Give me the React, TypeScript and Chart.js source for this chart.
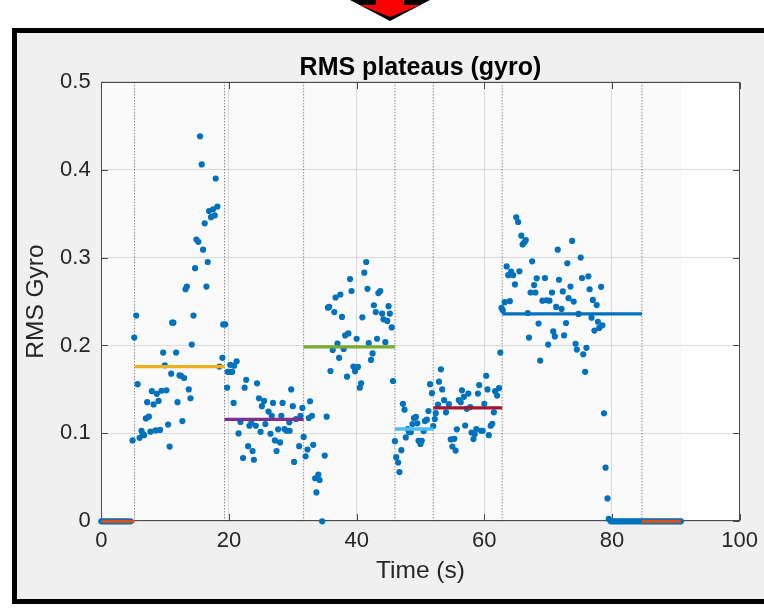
import React, { useEffect, useRef } from 'react';
import { Chart, registerables } from 'chart.js';
Chart.register(...registerables);

// ---- data ----
const timeS = [
  0, 0.3, 0.6, 0.9, 1.2, 1.5, 1.8, 2.1, 2.4, 2.7, 3.0, 3.3, 3.6, 3.9, 4.2, 4.6,
  4.9, 5.16, 5.47, 5.69, 6.0, 6.3, 6.5, 6.7, 6.98, 7.19,
  7.45, 7.7, 7.92, 8.19, 8.5, 8.7, 8.97, 9.2, 9.44, 9.69,
  9.95, 10.2, 10.47, 10.7, 10.95, 11.1, 11.3, 11.72, 11.94, 12.25,
  12.5, 12.7, 12.97, 13.19, 13.4, 13.7, 13.97, 14.17, 14.44, 14.69,
  14.9, 15.2, 15.47, 15.73, 15.94, 16.2, 16.47, 16.67, 16.88, 17.19,
  17.5, 17.77, 17.92, 18.19, 18.5, 18.97, 19.1, 19.4, 19.7, 19.8,
  20.15, 20.2, 20.5, 20.73, 20.8, 21.2, 21.5, 21.8, 22.2, 22.45,
  22.7, 23.0, 23.2, 23.5, 23.7, 23.9, 24.2, 24.4, 24.7, 24.95,
  25.16, 25.5, 25.7, 26.2, 26.5, 26.7, 26.9, 27.2, 27.45, 27.7,
  28.0, 28.2, 28.4, 28.7, 29.0, 29.45, 29.5, 29.75, 30.0, 30.2,
  30.5, 31.0, 31.2, 31.5, 31.7, 32.0, 32.3, 32.5, 32.7, 33.0,
  33.2, 33.5, 33.7, 34.0, 34.2, 34.6, 35.0, 35.3, 35.5, 35.7,
  35.9, 36.25, 36.5, 36.7, 37.0, 37.25, 37.45, 37.7, 37.97, 38.2,
  38.5, 38.7, 38.97, 39.2, 39.5, 39.75, 40.0, 40.2, 40.5, 40.7,
  40.9, 41.2, 41.5, 41.7, 41.9, 42.25, 42.5, 42.7, 43.0, 43.2,
  43.4, 43.7, 44.0, 44.2, 44.5, 44.8, 45.0, 45.2, 45.5, 45.7,
  46.0, 46.2, 46.5, 46.7, 47.0, 47.25, 47.5, 47.7, 48.0, 48.2,
  48.5, 48.75, 48.97, 49.28, 49.5, 49.7, 50.0, 50.2, 50.5, 50.7,
  51.0, 51.25, 51.5, 51.8, 52.0, 52.25, 52.4, 52.75, 52.9, 53.2,
  53.4, 53.7, 54.0, 54.45, 54.75, 55.0, 55.3, 55.5, 55.7, 56.0,
  56.3, 56.5, 56.8, 57.0, 57.25, 57.5, 57.8, 58.0, 58.3, 58.5,
  58.75, 59.0, 59.2, 59.5, 59.75, 60.0, 60.3, 60.5, 60.7, 61.0,
  61.25, 61.5, 61.7, 62.0, 62.3, 62.5, 62.7, 62.9, 63.2, 63.5,
  63.75, 64.0, 64.2, 64.5, 64.8, 65.0, 65.3, 65.5, 65.8, 66.0,
  66.3, 66.5, 66.8, 67.0, 67.25, 67.5, 67.8, 68.0, 68.2, 68.5,
  68.75, 69.1, 69.5, 69.75, 70.0, 70.2, 70.6, 70.8, 71.05, 71.25,
  71.5, 71.7, 72.1, 72.3, 72.5, 72.8, 73.0, 73.2, 73.5, 73.75,
  74.0, 74.3, 74.5, 74.75, 75.1, 75.3, 75.5, 75.8, 76.0, 76.3,
  76.5, 76.8, 77.0, 77.25, 77.6, 77.8, 78.0, 78.3, 78.5, 78.75,
  79.0, 79.3, 79.5,
  79.8, 80.1, 80.4, 80.7, 81.0, 81.3, 81.6, 81.9, 82.2, 82.5, 82.8, 83.1, 83.4,
  83.7, 84.0, 84.3, 84.6, 84.9, 85.2, 85.5, 85.8, 86.1, 86.4, 86.7, 87.0, 87.3,
  87.6, 87.9, 88.2, 88.5, 88.8, 89.1, 89.4, 89.7, 90.0, 90.3, 90.6, 90.8,
];

const rmsGyro = [
  0, 0, 0, 0, 0, 0, 0, 0, 0, 0, 0, 0, 0, 0, 0, 0,
  0.092, 0.209, 0.234, 0.156, 0.095, 0.103, 0.0996, 0.098, 0.117, 0.1355,
  0.119, 0.102, 0.148, 0.133, 0.1034, 0.145, 0.137, 0.104, 0.1485, 0.192,
  0.1775, 0.149, 0.110, 0.085, 0.168, 0.226, 0.226, 0.192, 0.1355, 0.166,
  0.1656, 0.114, 0.163, 0.264, 0.267, 0.150, 0.140, 0.201, 0.234, 0.288,
  0.3206, 0.318, 0.438, 0.406, 0.309, 0.339, 0.267, 0.295, 0.353, 0.346,
  0.355, 0.348, 0.39, 0.358, 0.176, 0.186, 0.224, 0.224, 0.152, 0.170,
  0.170, 0.178, 0.170, 0.1347, 0.177, 0.182, 0.100, 0.113, 0.072, 0.152,
  0.161, 0.0855, 0.1087, 0.112, 0.080, 0.070, 0.1087, 0.157, 0.140, 0.1018,
  0.131, 0.137, 0.1106, 0.1248, 0.0996, 0.120, 0.1347, 0.092, 0.080, 0.1046,
  0.0897, 0.120, 0.1347, 0.105, 0.103, 0.1126, 0.103, 0.150, 0.131, 0.0675,
  0.1164, 0.0855, 0.120, 0.129, 0.096, 0.074, 0.0817, 0.1175, 0.1366, 0.120,
  0.087, 0.049, 0.0328, 0.053, 0.047, 0, 0.0748, 0.119, 0.243, 0.244,
  0.171, 0.195, 0.238, 0.2546, 0.2023, 0.186, 0.258, 0.2325, 0.196, 0.2115,
  0.1645, 0.2137, 0.2756, 0.262, 0.176, 0.1706, 0.2077, 0.1756, 0.152, 0.157,
  0.232, 0.2828, 0.295, 0.2645, 0.2026, 0.1836, 0.191, 0.2458, 0.238, 0.2077,
  0.2596, 0.262, 0.2363, 0.2298, 0.2038, 0.228, 0.2447, 0.2363, 0.2206, 0.1596,
  0.0912, 0.0729, 0.0668, 0.056, 0.0809, 0.1336, 0.127, 0.0954, 0.105, 0.1015,
  0.1015, 0.1107, 0.1175, 0.1187, 0.1115, 0.0915, 0.088, 0.0915, 0.1026, 0.114,
  0.1156, 0.1255, 0.156, 0.1458, 0.1084, 0.1164, 0.123, 0.1328, 0.1588, 0.1729,
  0.150, 0.1378, 0.124, 0.1332, 0.0931, 0.0851, 0.0938, 0.0805, 0.1046, 0.138,
  0.1355, 0.149, 0.1416, 0.109, 0.128, 0.1453, 0.130, 0.101, 0.0935, 0.0992,
  0.105, 0.1453, 0.155, 0.103, 0.103, 0.1336, 0.1656, 0.150, 0.098, 0.1087,
  0.111, 0.124, 0.148, 0.143, 0.1515, 0.192, 0.2427, 0.240, 0.2493, 0.290,
  0.280, 0.2504, 0.284, 0.280, 0.2695, 0.3458, 0.3405, 0.2844, 0.325, 0.315,
  0.3176, 0.32, 0.237, 0.209, 0.2603, 0.2958, 0.2687, 0.2603, 0.2764, 0.225,
  0.1828, 0.251, 0.2768, 0.2515, 0.201, 0.251, 0.2603, 0.216, 0.2103, 0.2439,
  0.309, 0.2748, 0.2416, 0.2615, 0.2115, 0.2256, 0.2936, 0.2538, 0.267, 0.319,
  0.250, 0.202, 0.1954, 0.2359, 0.300, 0.2768, 0.190, 0.170, 0.1973, 0.2787,
  0.264, 0.2317, 0.2519, 0.217, 0.246, 0.227, 0.220, 0.2668, 0.223, 0.1229,
  0.061, 0.026, 0.0027,
  0, 0, 0, 0, 0, 0, 0, 0, 0, 0, 0, 0, 0,
  0, 0, 0, 0, 0, 0, 0, 0, 0, 0, 0, 0, 0,
  0, 0, 0, 0, 0, 0, 0, 0, 0, 0, 0, 0,
];

const plateauStart = [0, 5.2, 19.3, 31.7, 46.0, 52.0, 62.8, 84.7];
const plateauEnd = [5.2, 19.3, 31.7, 46.0, 52.0, 62.8, 84.7, 90.8];
const plateauLevel = [0, 0.176, 0.116, 0.1985, 0.105, 0.129, 0.236, 0];
const segmentBounds = [5.2, 19.3, 31.7, 46.0, 52.0, 62.8, 84.7];
const dataEndTime = 90.8;

const xTicks = [0, 20, 40, 60, 80, 100];
const xTickLabels = ['0', '20', '40', '60', '80', '100'];
const yTicks = [0, 0.1, 0.2, 0.3, 0.4, 0.5];
const yTickLabels = ['0', '0.1', '0.2', '0.3', '0.4', '0.5'];

// ---- styles ----
const plateauColors = ['#D95319', '#EDB120', '#7E2F8E', '#77AC30', '#4DBEEE', '#A2142F', '#0072BD', '#D95319'];
const FONT = "'Liberation Sans', Arial, Helvetica, sans-serif";
const AXIS_COLOR = '#262626';

const framePlugin = {
  id: 'frame',
  beforeDraw(chart: any) {
    const { ctx, chartArea: a, scales } = chart;
    const W = chart.width;
    ctx.save();
    ctx.fillStyle = '#ffffff';
    ctx.fillRect(0, 0, W, chart.height);
    // arrow at top
    ctx.fillStyle = '#000000';
    ctx.beginPath();
    ctx.moveTo(350, 0);
    ctx.lineTo(430, 0);
    ctx.lineTo(390, 21);
    ctx.closePath();
    ctx.fill();
    ctx.fillStyle = '#ff0000';
    ctx.fillRect(376, 0, 28, 5);
    ctx.beginPath();
    ctx.moveTo(360, 5);
    ctx.lineTo(420, 5);
    ctx.lineTo(390, 17);
    ctx.closePath();
    ctx.fill();
    // frame
    ctx.fillStyle = '#000000';
    ctx.fillRect(12, 28, W, 576);
    ctx.fillStyle = '#f0f0f0';
    ctx.fillRect(17, 33, W, 566);
    // plot background
    const xe = scales.x.getPixelForValue(dataEndTime);
    ctx.fillStyle = '#fafafa';
    ctx.fillRect(a.left, a.top, xe - a.left, a.bottom - a.top);
    ctx.fillStyle = '#ffffff';
    ctx.fillRect(xe, a.top, a.right - xe, a.bottom - a.top);
    ctx.restore();
  },
  beforeDatasetsDraw(chart: any) {
    const { ctx, chartArea: a, scales } = chart;
    ctx.save();
    ctx.strokeStyle = '#4a4a4a';
    ctx.lineWidth = 1;
    const L = Math.round(a.left) + 0.5;
    const R = Math.round(a.right) - 0.5;
    const T = Math.round(a.top) + 0.5;
    const B = Math.round(a.bottom) - 0.5;
    ctx.strokeRect(L, T, R - L, B - T);
    const tl = 6.5;
    ctx.beginPath();
    xTicks.forEach((v) => {
      const px = Math.round(scales.x.getPixelForValue(v)) + 0.5;
      ctx.moveTo(px, B); ctx.lineTo(px, B - tl);
      ctx.moveTo(px, T); ctx.lineTo(px, T + tl);
    });
    yTicks.forEach((v) => {
      const py = Math.round(scales.y.getPixelForValue(v)) + 0.5;
      ctx.moveTo(L, py); ctx.lineTo(L + tl, py);
      ctx.moveTo(R, py); ctx.lineTo(R - tl, py);
    });
    ctx.stroke();
    ctx.restore();
  },
};

export default function App() {
  const ref = useRef<HTMLCanvasElement>(null);
  useEffect(() => {
    const scatterPts = timeS.map((t, i) => ({ x: t, y: rmsGyro[i] }));
    const plateauSets = plateauStart.map((s, i) => ({
      type: 'scatter' as const,
      data: [{ x: s, y: plateauLevel[i] }, { x: plateauEnd[i], y: plateauLevel[i] }],
      showLine: true,
      borderColor: plateauColors[i],
      backgroundColor: plateauColors[i],
      borderWidth: 3.3,
      borderCapStyle: 'butt' as const,
      pointRadius: 0,
      clip: false as any,
      order: 0,
    }));
    const boundSets = segmentBounds.map((b) => ({
      type: 'scatter' as const,
      data: [{ x: b, y: 0 }, { x: b, y: 0.5 }],
      showLine: true,
      borderColor: 'rgba(60,60,60,0.85)',
      borderWidth: 1,
      borderDash: [1, 2],
      pointRadius: 0,
      order: 2,
    }));
    const chart = new Chart(ref.current as HTMLCanvasElement, {
      type: 'scatter',
      data: {
        datasets: [
          ...plateauSets,
          {
            data: scatterPts,
            backgroundColor: '#0072BD',
            borderWidth: 0,
            pointRadius: 3.1,
            pointHoverRadius: 3.1,
            clip: false as any,
            order: 1,
          },
          ...boundSets,
        ] as any,
      },
      plugins: [framePlugin],
      options: {
        responsive: false,
        devicePixelRatio: 1,
        animation: false,
        events: [],
        layout: { padding: { top: 0, left: 0, right: 22.7, bottom: 0 } },
        plugins: {
          legend: { display: false },
          tooltip: { enabled: false },
          title: {
            display: true,
            fullSize: false,
            text: 'RMS plateaus (gyro)',
            color: '#000000',
            font: { family: FONT, size: 25, weight: 'bold', lineHeight: 1 },
            padding: { top: 55.5, bottom: 1.3 },
          },
        },
        scales: {
          x: {
            type: 'linear',
            min: 0,
            max: 100,
            afterBuildTicks: (s: any) => { s.ticks = xTicks.map((v) => ({ value: v })); },
            afterFit: (s: any) => { s.height = 91.7; },
            grid: { color: 'rgba(38,38,38,0.15)', lineWidth: 1, drawTicks: false },
            border: { display: false },
            ticks: {
              callback: (v: any) => xTickLabels[xTicks.indexOf(Number(v))],
              padding: 6,
              color: AXIS_COLOR,
              font: { family: FONT, size: 22 },
              maxRotation: 0,
              autoSkip: false,
            },
            title: {
              display: true,
              text: 'Time (s)',
              color: AXIS_COLOR,
              font: { family: FONT, size: 24.5 },
              padding: { top: 0, bottom: 27 },
            },
          },
          y: {
            type: 'linear',
            min: 0,
            max: 0.5,
            afterBuildTicks: (s: any) => { s.ticks = yTicks.map((v) => ({ value: v })); },
            afterFit: (s: any) => { s.width = 101.3; },
            grid: { color: 'rgba(38,38,38,0.15)', lineWidth: 1, drawTicks: false },
            border: { display: false },
            ticks: {
              callback: (v: any) => yTickLabels[yTicks.findIndex((t) => Math.abs(t - Number(v)) < 1e-9)],
              padding: 10.6,
              color: AXIS_COLOR,
              font: { family: FONT, size: 22 },
              autoSkip: false,
            },
            title: {
              display: true,
              text: 'RMS Gyro',
              color: AXIS_COLOR,
              font: { family: FONT, size: 24.5 },
              padding: { top: 21.3, bottom: 0 },
            },
          },
        },
      } as any,
    });
    return () => chart.destroy();
  }, []);
  return (
    <div style={{ position: 'fixed', left: 0, top: 0, width: 764, height: 613, background: '#ffffff' }}>
      <canvas ref={ref} width={764} height={613} style={{ display: 'block', width: 764, height: 613 }} />
    </div>
  );
}
